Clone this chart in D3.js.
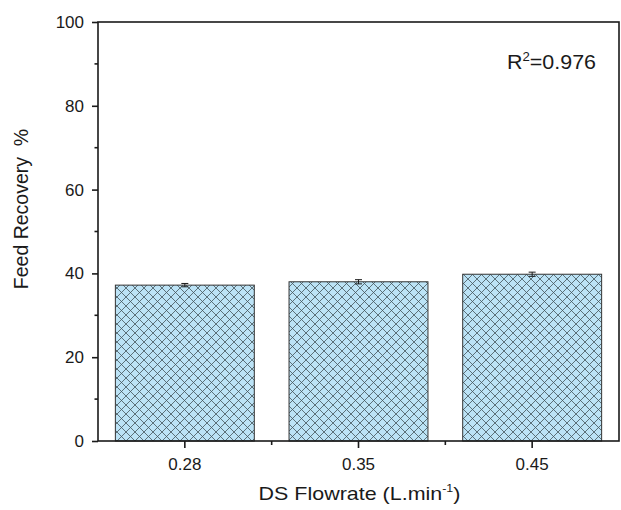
<!DOCTYPE html>
<html>
<head>
<meta charset="utf-8">
<script src="https://cdn.jsdelivr.net/npm/d3@7"></script>
<style>
  html, body { margin: 0; padding: 0; background: #fff; }
  svg { display: block; font-family: Arial, "Liberation Sans", sans-serif; }
</style>
</head>
<body>
<svg id="chart" width="621" height="510"></svg>
<script>
// Feed recovery at each draw-solution flowrate
const categories = ["0.28", "0.35", "0.45"];
const recovery = [37.2, 38.0, 39.8];
const recoveryErr = [0.4, 0.5, 0.5];
const yTicks = [0, 20, 40, 60, 80, 100];
const yMinorTicks = [10, 30, 50, 70, 90];
const r2Text = "0.976";

const svg = d3.select("#chart");
const plotL = 98, plotR = 619, plotT = 22, plotB = 441;
const ink = "#1a1a1a";

const x = d3.scaleBand().domain(categories).range([plotL, plotR]).paddingInner(0.2).paddingOuter(0.1);
const y = d3.scaleLinear().domain([0, 100]).range([plotB, plotT]);

// crosshatch pattern for bars
const defs = svg.append("defs");
const pat = defs.append("pattern")
  .attr("id", "xhatch")
  .attr("patternUnits", "userSpaceOnUse")
  .attr("width", 9).attr("height", 9);
pat.append("rect").attr("width", 9).attr("height", 9).attr("fill", "#bce3f6");
pat.append("path").attr("d", "M0,0 L9,9 M-1,8 L1,10 M8,-1 L10,1")
  .attr("stroke", "#44545b").attr("stroke-width", 0.8);
pat.append("path").attr("d", "M9,0 L0,9 M-1,1 L1,-1 M8,10 L10,8")
  .attr("stroke", "#44545b").attr("stroke-width", 0.8);

// bars
svg.append("g").selectAll("rect").data(categories).join("rect")
  .attr("x", d => x(d))
  .attr("y", (d, i) => y(recovery[i]))
  .attr("width", x.bandwidth())
  .attr("height", (d, i) => y(0) - y(recovery[i]))
  .attr("fill", "url(#xhatch)")
  .attr("stroke", "#333")
  .attr("stroke-width", 1);

// error bars
const eb = svg.append("g").attr("stroke", ink).attr("stroke-width", 1);
categories.forEach((c, i) => {
  const cx = x(c) + x.bandwidth() / 2;
  const y1 = y(recovery[i] + recoveryErr[i]), y0 = y(recovery[i] - recoveryErr[i]);
  eb.append("line").attr("x1", cx).attr("x2", cx).attr("y1", y1).attr("y2", y0);
  eb.append("line").attr("x1", cx - 3.5).attr("x2", cx + 3.5).attr("y1", y1).attr("y2", y1);
  eb.append("line").attr("x1", cx - 3.5).attr("x2", cx + 3.5).attr("y1", y0).attr("y2", y0);
});

// frame
svg.append("rect").attr("x", plotL).attr("y", plotT)
  .attr("width", plotR - plotL).attr("height", plotB - plotT)
  .attr("fill", "none").attr("stroke", ink).attr("stroke-width", 1.6);

// y axis
const yAxis = svg.append("g").attr("transform", `translate(${plotL},0)`)
  .call(d3.axisLeft(y).tickValues(yTicks).tickSize(6).tickPadding(8).tickFormat(d3.format("d")));
yAxis.select(".domain").remove();
yAxis.selectAll("line").attr("stroke", ink).attr("stroke-width", 1.6);
yAxis.selectAll("text").attr("font-size", 17).attr("fill", ink);
svg.append("g").selectAll("line").data(yMinorTicks).join("line")
  .attr("x1", plotL - 3.5).attr("x2", plotL).attr("y1", d => y(d)).attr("y2", d => y(d))
  .attr("stroke", ink).attr("stroke-width", 1.6);

// x axis
const xAxis = svg.append("g").attr("transform", `translate(0,${plotB})`)
  .call(d3.axisBottom(x).tickSize(7).tickPadding(10));
xAxis.select(".domain").remove();
xAxis.selectAll("line").attr("stroke", ink).attr("stroke-width", 1.6);
xAxis.selectAll("text").attr("font-size", 17).attr("fill", ink);
// minor ticks between categories
const step = x.step();
const bounds = categories.slice(1).map(c => x(c) - x.paddingInner() * step / 2);
svg.append("g").selectAll("line").data(bounds).join("line")
  .attr("x1", d => d).attr("x2", d => d).attr("y1", plotB).attr("y2", plotB + 4)
  .attr("stroke", ink).attr("stroke-width", 1.6);

// axis titles
svg.append("text")
  .attr("transform", "translate(28,209) rotate(-90)")
  .attr("text-anchor", "middle").attr("font-size", 19.5).attr("fill", ink)
  .attr("xml:space", "preserve").style("white-space", "pre")
  .text("Feed Recovery  %");

const xt = svg.append("g").attr("transform", "translate(359.5,500) scale(1.13,1)")
  .append("text")
  .attr("text-anchor", "middle").attr("font-size", 19).attr("fill", ink);
xt.append("tspan").text("DS Flowrate (L.min");
xt.append("tspan").attr("font-size", 11).attr("dy", -8).text("-1");
xt.append("tspan").attr("dy", 8).text(")");

// fit statistic
const rt = svg.append("g").attr("transform", "translate(507,69) scale(1.1,1)")
  .append("text").attr("font-size", 19.5).attr("fill", ink);
rt.append("tspan").text("R");
rt.append("tspan").attr("font-size", 12).attr("dy", -8).text("2");
rt.append("tspan").attr("dy", 8).text("=" + r2Text);
</script>
</body>
</html>
